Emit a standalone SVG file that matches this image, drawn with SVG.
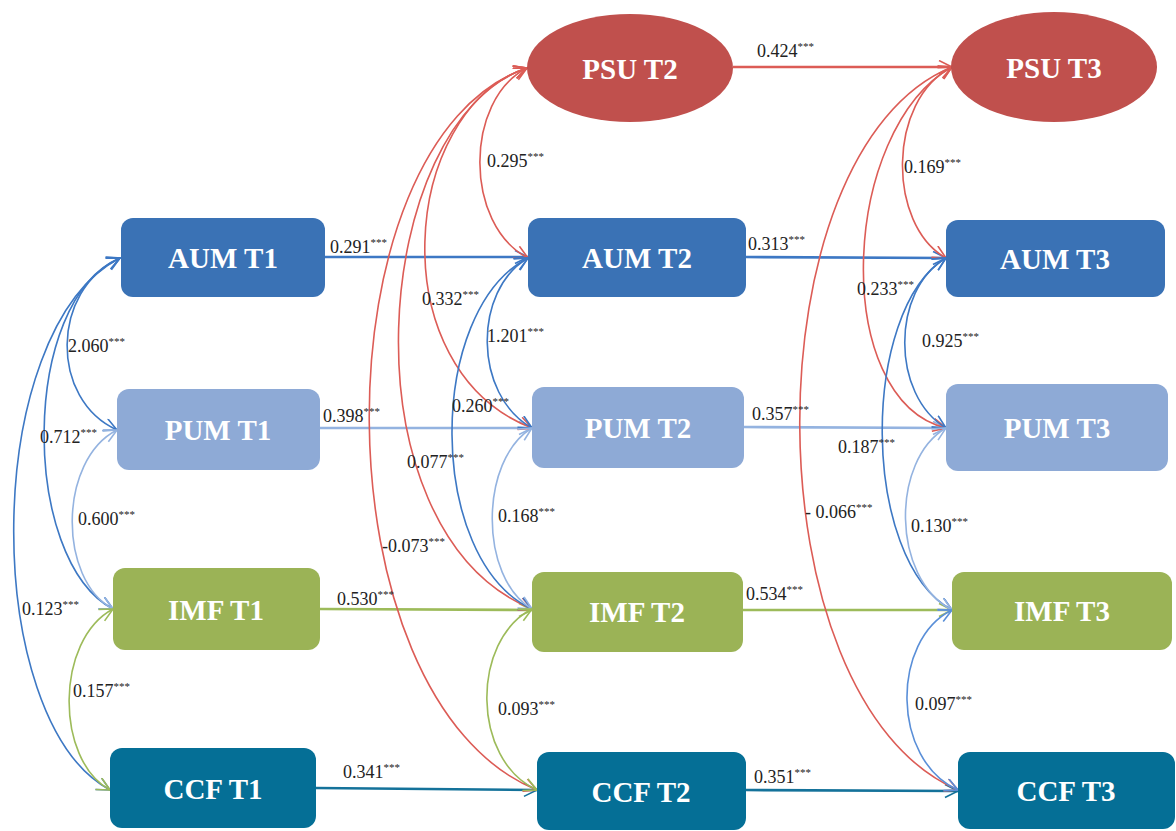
<svg xmlns="http://www.w3.org/2000/svg" width="1176" height="831" viewBox="0 0 1176 831">
<style>
.nt{font-family:"Liberation Serif","Times New Roman",serif;font-weight:bold;font-size:29px;fill:#fff;text-anchor:middle}
.lb{font-family:"Liberation Serif","Times New Roman",serif;font-size:18px;fill:#222}
.sp{font-size:11px}
.c{fill:none;stroke-width:1.6}
.h{fill:none;stroke-width:2.6}
.red{stroke:#dc5c56}.blue{stroke:#3d78c4}.lblue{stroke:#94b3e0}.green{stroke:#9dbb5a}.teal{stroke:#14729a}.mblue{stroke:#5a8fd8}
</style>
<defs>
<marker id="mr" markerUnits="userSpaceOnUse" markerWidth="18" markerHeight="18" refX="14" refY="7" orient="auto-start-reverse"><path d="M1,0.5 L14,7 L1,13.5" fill="none" stroke="#dc5c56" stroke-width="1.6"/></marker>
<marker id="mb" markerUnits="userSpaceOnUse" markerWidth="18" markerHeight="18" refX="14" refY="7" orient="auto-start-reverse"><path d="M1,0.5 L14,7 L1,13.5" fill="none" stroke="#3d78c4" stroke-width="1.6"/></marker>
<marker id="ml" markerUnits="userSpaceOnUse" markerWidth="18" markerHeight="18" refX="14" refY="7" orient="auto-start-reverse"><path d="M1,0.5 L14,7 L1,13.5" fill="none" stroke="#94b3e0" stroke-width="1.6"/></marker>
<marker id="mg" markerUnits="userSpaceOnUse" markerWidth="18" markerHeight="18" refX="14" refY="7" orient="auto-start-reverse"><path d="M1,0.5 L14,7 L1,13.5" fill="none" stroke="#9dbb5a" stroke-width="1.6"/></marker>
<marker id="mt" markerUnits="userSpaceOnUse" markerWidth="18" markerHeight="18" refX="14" refY="7" orient="auto-start-reverse"><path d="M1,0.5 L14,7 L1,13.5" fill="none" stroke="#14729a" stroke-width="1.6"/></marker>
<marker id="mm" markerUnits="userSpaceOnUse" markerWidth="18" markerHeight="18" refX="14" refY="7" orient="auto-start-reverse"><path d="M1,0.5 L14,7 L1,13.5" fill="none" stroke="#5a8fd8" stroke-width="1.6"/></marker>
</defs>
<rect width="1176" height="831" fill="#fff"/>

<g id="connectors">
<!-- horizontal paths -->
<path class="h blue" d="M325,257 L528,257" marker-end="url(#mb)"/>
<path class="h lblue" d="M320,428 L532,428" marker-end="url(#ml)"/>
<path class="h green" d="M320,609 L532,610" marker-end="url(#mg)"/>
<path class="h teal" d="M316,788 L537,790" marker-end="url(#mt)"/>
<path class="h red" d="M733,67 L952,67" marker-end="url(#mr)"/>
<path class="h blue" d="M746,257 L946,258" marker-end="url(#mb)"/>
<path class="h lblue" d="M744,427 L946,428" marker-end="url(#ml)"/>
<path class="h green" d="M743,610 L952,610" marker-end="url(#mg)"/>
<path class="h teal" d="M746,790 L958,791" marker-end="url(#mt)"/>

<!-- T1 covariances -->
<path class="c blue" d="M120,258 C50,290 50,400 117,430" marker-start="url(#mb)" marker-end="url(#mb)"/>
<path class="c blue" d="M120,258 C20,300 20,560 113,609" marker-start="url(#mb)" marker-end="url(#mb)"/>
<path class="c blue" d="M120,258 C-20,330 -20,720 110,790" marker-start="url(#mb)" marker-end="url(#mb)"/>
<path class="c lblue" d="M117,430 C58,460 58,580 113,609" marker-start="url(#ml)" marker-end="url(#ml)"/>
<path class="c green" d="M113,609 C55,640 55,760 110,790" marker-start="url(#mg)" marker-end="url(#mg)"/>

<!-- T2 covariances -->
<path class="c red" d="M527,68 C464,100 464,225 528,258" marker-start="url(#mr)" marker-end="url(#mr)"/>
<path class="c red" d="M527,68 C400,110 380,370 532,428" marker-start="url(#mr)" marker-end="url(#mr)"/>
<path class="c red" d="M527,68 C370,120 340,530 532,609" marker-start="url(#mr)" marker-end="url(#mr)"/>
<path class="c red" d="M527,68 C315,140 315,700 537,790" marker-start="url(#mr)" marker-end="url(#mr)"/>
<path class="c blue" d="M528,258 C473,290 473,395 532,428" marker-start="url(#mb)" marker-end="url(#mb)"/>
<path class="c blue" d="M528,258 C426,310 426,560 532,609" marker-start="url(#mb)" marker-end="url(#mb)"/>
<path class="c lblue" d="M532,428 C479,460 479,578 532,609" marker-start="url(#ml)" marker-end="url(#ml)"/>
<path class="c green" d="M532,609 C471,640 471,760 537,790" marker-start="url(#mg)" marker-end="url(#mg)"/>

<!-- T3 covariances -->
<path class="c red" d="M952,67 C887,100 887,225 946,258" marker-start="url(#mr)" marker-end="url(#mr)"/>
<path class="c red" d="M952,67 C840,130 830,400 946,428" marker-start="url(#mr)" marker-end="url(#mr)"/>
<path class="c red" d="M952,67 C748,150 748,700 958,790" marker-start="url(#mr)" marker-end="url(#mr)"/>
<path class="c blue" d="M946,258 C891,290 891,395 946,428" marker-start="url(#mb)" marker-end="url(#mb)"/>
<path class="c blue" d="M946,258 C860,310 860,560 952,610" marker-start="url(#mb)" marker-end="url(#mb)"/>
<path class="c lblue" d="M946,428 C891,460 891,578 952,610" marker-start="url(#ml)" marker-end="url(#ml)"/>
<path class="c mblue" d="M952,610 C891,640 891,760 958,790" marker-start="url(#mm)" marker-end="url(#mm)"/>

<!-- labels -->
<text class="lb" x="330" y="253">0.291<tspan class="sp" dy="-7">***</tspan></text>
<text class="lb" x="68" y="352">2.060<tspan class="sp" dy="-7">***</tspan></text>
<text class="lb" x="323" y="422">0.398<tspan class="sp" dy="-7">***</tspan></text>
<text class="lb" x="40" y="443">0.712<tspan class="sp" dy="-7">***</tspan></text>
<text class="lb" x="78" y="525">0.600<tspan class="sp" dy="-7">***</tspan></text>
<text class="lb" x="22" y="615">0.123<tspan class="sp" dy="-7">***</tspan></text>
<text class="lb" x="337" y="605">0.530<tspan class="sp" dy="-7">***</tspan></text>
<text class="lb" x="73" y="697">0.157<tspan class="sp" dy="-7">***</tspan></text>
<text class="lb" x="343" y="778">0.341<tspan class="sp" dy="-7">***</tspan></text>
<text class="lb" x="487" y="167">0.295<tspan class="sp" dy="-7">***</tspan></text>
<text class="lb" x="422" y="305">0.332<tspan class="sp" dy="-7">***</tspan></text>
<text class="lb" x="757" y="57">0.424<tspan class="sp" dy="-7">***</tspan></text>
<text class="lb" x="748" y="250">0.313<tspan class="sp" dy="-7">***</tspan></text>
<text class="lb" x="904" y="173">0.169<tspan class="sp" dy="-7">***</tspan></text>
<text class="lb" x="857" y="295">0.233<tspan class="sp" dy="-7">***</tspan></text>
<text class="lb" x="487" y="342">1.201<tspan class="sp" dy="-7">***</tspan></text>
<text class="lb" x="452" y="412">0.260<tspan class="sp" dy="-7">***</tspan></text>
<text class="lb" x="407" y="468">0.077<tspan class="sp" dy="-7">***</tspan></text>
<text class="lb" x="498" y="522">0.168<tspan class="sp" dy="-7">***</tspan></text>
<text class="lb" x="382" y="552">-0.073<tspan class="sp" dy="-7">***</tspan></text>
<text class="lb" x="498" y="715">0.093<tspan class="sp" dy="-7">***</tspan></text>
<text class="lb" x="746" y="600">0.534<tspan class="sp" dy="-7">***</tspan></text>
<text class="lb" x="754" y="783">0.351<tspan class="sp" dy="-7">***</tspan></text>
<text class="lb" x="915" y="710">0.097<tspan class="sp" dy="-7">***</tspan></text>
<text class="lb" x="922" y="347">0.925<tspan class="sp" dy="-7">***</tspan></text>
<text class="lb" x="752" y="420">0.357<tspan class="sp" dy="-7">***</tspan></text>
<text class="lb" x="838" y="453">0.187<tspan class="sp" dy="-7">***</tspan></text>
<text class="lb" x="805" y="518">- 0.066<tspan class="sp" dy="-7">***</tspan></text>
<text class="lb" x="911" y="532">0.130<tspan class="sp" dy="-7">***</tspan></text>
</g>

<g id="aum_t1"><rect x="121" y="218" width="204" height="79" rx="12" fill="#3a72b5"/><text class="nt" x="223" y="268">AUM T1</text></g>
<g id="pum_t1"><rect x="117" y="389" width="203" height="81" rx="12" fill="#8eaad6"/><text class="nt" x="218" y="440">PUM T1</text></g>
<g id="imf_t1"><rect x="113" y="568" width="207" height="82" rx="12" fill="#9bb356"/><text class="nt" x="216" y="620">IMF T1</text></g>
<g id="ccf_t1"><rect x="110" y="748" width="206" height="80" rx="12" fill="#056f96"/><text class="nt" x="213" y="799">CCF T1</text></g>

<g id="psu_t2"><ellipse cx="630" cy="68" rx="103" ry="54" fill="#c0504d"/><text class="nt" x="630" y="79">PSU T2</text></g>
<g id="aum_t2"><rect x="528" y="218" width="218" height="79" rx="12" fill="#3a72b5"/><text class="nt" x="637" y="268">AUM T2</text></g>
<g id="pum_t2"><rect x="532" y="387" width="212" height="81" rx="12" fill="#8eaad6"/><text class="nt" x="638" y="438">PUM T2</text></g>
<g id="imf_t2"><rect x="532" y="572" width="211" height="80" rx="12" fill="#9bb356"/><text class="nt" x="637" y="622">IMF T2</text></g>
<g id="ccf_t2"><rect x="537" y="752" width="209" height="78" rx="12" fill="#056f96"/><text class="nt" x="641" y="802">CCF T2</text></g>

<g id="psu_t3"><ellipse cx="1054" cy="67" rx="103" ry="55" fill="#c0504d"/><text class="nt" x="1054" y="78">PSU T3</text></g>
<g id="aum_t3"><rect x="946" y="220" width="219" height="77" rx="12" fill="#3a72b5"/><text class="nt" x="1055" y="269">AUM T3</text></g>
<g id="pum_t3"><rect x="946" y="384" width="222" height="87" rx="12" fill="#8eaad6"/><text class="nt" x="1057" y="438">PUM T3</text></g>
<g id="imf_t3"><rect x="952" y="572" width="220" height="78" rx="12" fill="#9bb356"/><text class="nt" x="1062" y="621">IMF T3</text></g>
<g id="ccf_t3"><rect x="958" y="752" width="217" height="77" rx="12" fill="#056f96"/><text class="nt" x="1066" y="801">CCF T3</text></g>
</svg>
